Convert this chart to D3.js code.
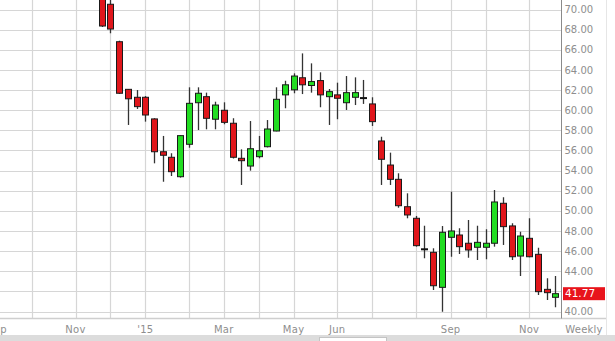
<!DOCTYPE html>
<html><head><meta charset="utf-8">
<script src="https://cdn.jsdelivr.net/npm/d3@7/dist/d3.min.js"></script>
<style>html,body{margin:0;padding:0;background:#fff;overflow:hidden}</style>
</head><body><svg id="c" width="615" height="341"></svg>
<script>
// Weekly candles: first week starts 2014-11-24
const firstWeek = "2014-11-24";
const opens  = [72.5,70.52,66.8,62.07,61.28,61.28,59.13,55.87,55.32,53.39,56.61,60.74,61.34,59.1,59.99,58.7,55.22,54.45,55.38,56.37,57.93,61.52,62.02,63.22,62.45,62.94,61.34,61.52,60.74,61.28,61.2,60.62,56.94,54.55,53.13,50.41,49.26,46.18,45.88,42.4,47.37,47.6,46.78,46.38,46.38,46.78,50.75,48.5,45.51,47.27,45.68,42.2,41.41];
const highs  = [73,71.5,66.9,62.1,62.0,61.4,59.2,57.44,55.72,57.5,62.27,62.27,61.74,60.84,60.78,59.2,56.11,58.92,57.44,59.02,62.27,62.92,63.66,65.64,64.65,63.76,62.1,62.73,63.39,63.26,63.0,61.28,57.36,55.78,53.73,51.74,49.49,48.52,46.28,48.49,51.9,48.27,49.09,48.52,48.17,52.07,51.35,48.76,47.93,49.26,46.34,43.3,43.53];
const lows   = [68.26,67.64,61.61,58.53,60.12,58.86,54.72,52.89,53.46,53.3,56.27,58.03,58.1,58.1,58.6,55.2,52.57,53.99,55.22,56.3,57.9,60.19,61.68,61.6,61.74,60.29,58.53,59.1,60.02,60.51,60.62,58.43,52.57,52.57,50.31,49.26,46.44,45.28,42.14,39.98,45.44,45.71,45.34,45.11,45.18,46.44,46.61,45.11,43.53,45.4,41.64,41.14,40.42];
const closes = [68.36,68.06,61.68,61.13,60.35,59.52,55.87,55.52,53.89,57.47,60.68,61.68,59.19,60.51,58.79,55.32,54.98,56.17,55.97,58.13,61.08,62.52,63.39,62.52,62.84,61.52,61.84,61.18,61.74,61.74,61.2,58.86,55.12,53.13,50.51,49.59,46.54,46.18,42.56,47.87,48.0,46.44,46.11,46.87,46.78,50.88,48.43,45.44,47.5,45.44,41.97,41.87,41.77];
const lastLabel = "41.77";
const yTicks = [40,42,44,46,48,50,52,54,56,58,60,62,64,66,68,70];
// month gridlines: week containing first trading day of each month
const monthWeeks  = ["2014-09-01","2014-09-29","2014-11-03","2014-12-01","2014-12-29","2015-02-02","2015-03-02","2015-03-30","2015-04-27","2015-06-01","2015-06-29","2015-08-03","2015-08-31","2015-09-28","2015-11-02"];
const monthLabels = ["Sep","","Nov","","'15","","Mar","","May","Jun","","","Sep","","Nov"];
const periodLabel = "Weekly";

const parse = d3.utcParse("%Y-%m-%d");
const W = 7*24*3600*1000;
const t0 = parse(firstWeek);
const data = opens.map((o,i)=>({date:new Date(+t0+i*W),o,h:highs[i],l:lows[i],c:closes[i]}));

const svg = d3.select("#c");
const plotR = 561.5, plotB = 318.5;
const x = d3.scaleUtc().domain([t0, data[data.length-1].date]).range([101.7, 555.3]);
const y = d3.scaleLinear().domain([40,70]).range([311.5, 9.5]);
const font = "DejaVu Sans, Verdana, sans-serif";
const txt = "#8e8e8e";

// bottom grey band and tab
svg.append("rect").attr("x",0).attr("y",335).attr("width",615).attr("height",6).attr("fill","#dcdcdc");
svg.append("rect").attr("x",319.5).attr("y",337.5).attr("width",67).attr("height",5).attr("fill","#fff").attr("stroke","#c4c4c4");

// clip
svg.append("defs").append("clipPath").attr("id","clip").append("rect").attr("x",0).attr("y",0).attr("width",plotR).attr("height",plotB);

const grid = svg.append("g");
grid.selectAll("line.h").data(yTicks).join("line")
  .attr("x1",0).attr("x2",plotR).attr("y1",d=>Math.round(y(d))+0.5).attr("y2",d=>Math.round(y(d))+0.5)
  .attr("stroke","#d6d6d6").attr("stroke-width",1.2);
grid.selectAll("line.v").data(monthWeeks).join("line")
  .attr("x1",d=>Math.round(x(parse(d)))+0.5).attr("x2",d=>Math.round(x(parse(d)))+0.5).attr("y1",0).attr("y2",plotB)
  .attr("stroke","#d6d6d6").attr("stroke-width",1.2);

// axis lines
svg.append("line").attr("x1",0).attr("x2",606).attr("y1",plotB).attr("y2",plotB).attr("stroke","#cfcfcf").attr("stroke-width",1.5);
svg.append("line").attr("x1",plotR).attr("x2",plotR).attr("y1",0).attr("y2",plotB).attr("stroke","#8a8a8a");
svg.append("line").attr("x1",606.5).attr("x2",606.5).attr("y1",0).attr("y2",335).attr("stroke","#e6e6e6");

// candles
const g = svg.append("g").attr("clip-path","url(#clip)");
const bw = 6;
const cg = g.selectAll("g.c").data(data).join("g");
cg.append("line")
  .attr("x1",d=>Math.round(x(d.date))+0.5).attr("x2",d=>Math.round(x(d.date))+0.5)
  .attr("y1",d=>y(d.h)).attr("y2",d=>y(d.l)).attr("stroke","#333").attr("stroke-width",1.3);
cg.filter(d=>d.o!==d.c).append("rect")
  .attr("x",d=>Math.round(x(d.date))-bw/2+0.5).attr("width",bw)
  .attr("y",d=>y(Math.max(d.o,d.c))).attr("height",d=>Math.max(1.5,Math.abs(y(d.o)-y(d.c))))
  .attr("fill",d=>d.c>d.o?"#22dd22":"#e0161b").attr("stroke","#1a1a1a").attr("stroke-width",1);
cg.filter(d=>d.o===d.c).append("line")
  .attr("x1",d=>Math.round(x(d.date))-bw/2).attr("x2",d=>Math.round(x(d.date))+bw/2+1)
  .attr("y1",d=>y(d.c)).attr("y2",d=>y(d.c)).attr("stroke","#111").attr("stroke-width",2);

// last price position (its tag hides any tick label it covers)
const ly = y(closes[closes.length-1]);

// y labels
svg.append("g").selectAll("text").data(yTicks.filter(d=>Math.abs(y(d)-ly)>11)).join("text")
  .attr("x",564.5).attr("y",d=>y(d)).attr("dy","0.36em")
  .attr("font-family",font).attr("font-size",10).attr("fill",txt)
  .text(d=>d3.format(".2f")(d));

// last price label
svg.append("rect").attr("x",563).attr("y",ly-6.5).attr("width",42).attr("height",13).attr("fill","#e8141c");
svg.append("text").attr("x",565).attr("y",ly).attr("dy","0.36em")
  .attr("font-family",font).attr("font-size",10.5).attr("fill","#fff").text(lastLabel);

// x labels
svg.append("g").selectAll("text").data(monthWeeks.map((d,i)=>({d,l:monthLabels[i]})).filter(o=>o.l)).join("text")
  .attr("x",o=>x(parse(o.d))).attr("y",333).attr("text-anchor","middle")
  .attr("font-family",font).attr("font-size",10).attr("fill",txt).attr("letter-spacing",0.3)
  .text(o=>o.l);
svg.append("text").attr("x",584).attr("y",333).attr("text-anchor","middle")
  .attr("font-family",font).attr("font-size",10).attr("fill",txt).attr("letter-spacing",0.2).text(periodLabel);
</script></body></html>
